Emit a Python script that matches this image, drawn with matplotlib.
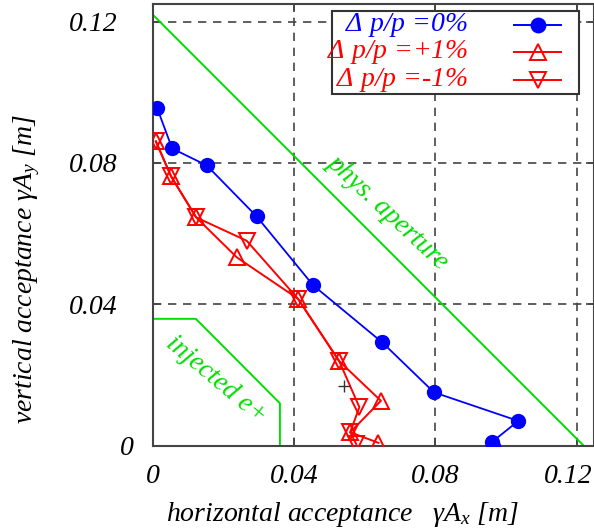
import matplotlib
matplotlib.use("Agg")
import matplotlib.pyplot as plt
from matplotlib.patches import Rectangle
from matplotlib.lines import Line2D
from matplotlib.transforms import ScaledTranslation

plt.rcParams["font.family"] = ["Liberation Serif", "DejaVu Serif"]
plt.rcParams["font.style"] = "italic"
plt.rcParams["mathtext.fontset"] = "custom"
plt.rcParams["mathtext.rm"] = "Liberation Serif"
plt.rcParams["mathtext.it"] = "Liberation Serif:italic"
plt.rcParams["mathtext.bf"] = "Liberation Serif:bold"

# Dynamic acceptance, dp/p = 0
ax0 = [0.0012, 0.0055, 0.0153, 0.0294, 0.0454, 0.0650, 0.0796, 0.1035, 0.0961, 0.0964]
ay0 = [0.0957, 0.0841, 0.0793, 0.0649, 0.0454, 0.0292, 0.0151, 0.0070, 0.0011, 0.0000]

# dp/p = +1%
axp = [0.0009, 0.0052, 0.0123, 0.0238, 0.0411, 0.0528, 0.0646, 0.0559, 0.0639]
ayp = [0.0861, 0.0762, 0.0646, 0.0533, 0.0416, 0.0239, 0.0127, 0.0038, 0.0008]

# dp/p = -1%
axm = [0.0009, 0.0052, 0.0123, 0.0266, 0.0411, 0.0528, 0.0585, 0.0559, 0.0576]
aym = [0.0861, 0.0762, 0.0646, 0.0580, 0.0416, 0.0239, 0.0109, 0.0038, 0.0005]

# physical aperture: Ax + Ay = const
phys_x = [0.0, 0.122]
phys_y = [0.122, 0.0]

# injected beam boundary
inj_x = [0.0, 0.0122, 0.0360, 0.0360]
inj_y = [0.0359, 0.0359, 0.0120, 0.0]

# stray marker
cross_x = [0.0542]
cross_y = [0.0169]

ticks = [0.0, 0.04, 0.08, 0.12]
tick_labels = ["0", "0.04", "0.08", "0.12"]

fig = plt.figure(figsize=(5.94, 5.29), dpi=100)
ax = fig.add_axes([0.2571, 0.1575, 0.7434, 0.8350])
ax.set_xlim(0, 0.125)
ax.set_ylim(0, 0.125)

ax.set_xticks(ticks)
ax.set_yticks(ticks)
ax.set_xticklabels(tick_labels, fontsize=20)
ax.set_yticklabels(tick_labels, fontsize=20)
ax.tick_params(direction="in", top=True, right=True, length=6, width=1.2,
               color="#444444")
ax.tick_params(axis="x", pad=13)
ax.tick_params(axis="y", pad=25)
for s in ax.spines.values():
    s.set_color("#444444")
    s.set_linewidth(1.5)

ax.grid(True, color="#444444", linestyle=(0, (5, 4)), linewidth=1.2, zorder=1)
ax.set_axisbelow(True)

# nudge end labels so they sit like the rest of the scale
ylab0 = ax.get_yticklabels()[0]
ylab0.set_transform(ylab0.get_transform() + ScaledTranslation(16 / 100, 0, fig.dpi_scale_trans))
xlab_last = ax.get_xticklabels()[-1]
xlab_last.set_transform(xlab_last.get_transform() + ScaledTranslation(-8 / 100, 0, fig.dpi_scale_trans))

ax.plot(phys_x, phys_y, color="#00dd00", lw=1.4, zorder=2)
ax.plot(inj_x, inj_y, color="#00dd00", lw=1.4, zorder=2)

ax.plot(axm, aym, color="red", lw=1.4, marker="v", ms=11, mfc="none", mew=1.4, zorder=3)
ax.plot(axp, ayp, color="red", lw=1.4, marker="^", ms=11, mfc="none", mew=1.4, zorder=3)
ax.plot(ax0, ay0, color="blue", lw=1.3, marker="o", ms=10, zorder=4)
ax.plot(cross_x, cross_y, ls="none", marker="+", ms=8, mew=1.0, color="#333333", zorder=4)

ax.text(0.0666, 0.0661, "phys. aperture", color="#00dd00", fontsize=19.5,
        rotation=-43, ha="center", va="center", rotation_mode="anchor")
ax.text(0.0180, 0.0185, "injected e+", color="#00dd00", fontsize=19.5,
        rotation=-40, ha="center", va="center", rotation_mode="anchor")

ax.set_xlabel(r"horizontal acceptance   $\mathrm{\gamma A}_x$ [m]", fontsize=20)
ax.xaxis.set_label_coords(0.43, -0.122)
ax.set_ylabel(r"vertical acceptance $\mathrm{\gamma A}_y$ [m]", fontsize=20)
ax.yaxis.set_label_coords(-0.25, 0.40)

# key box
box = Rectangle((0.4053, 0.7955), 0.9661 - 0.4053, 0.9841 - 0.7955,
                transform=ax.transAxes, facecolor="white", edgecolor="#333333",
                lw=1.5, zorder=5)
ax.add_patch(box)
entries = [
    (r"$\Delta$ p/p =0%", "blue", "o", "blue", 0.9524),
    (r"$\Delta$ p/p =+1%", "red", "^", "none", 0.8913),
    (r"$\Delta$ p/p =-1%", "red", "v", "none", 0.8280),
]
for label, col, mk, mfc, yy in entries:
    ax.text(0.714, yy, label, color=col, fontsize=20, ha="right", va="center",
            transform=ax.transAxes, zorder=6)
    ax.add_line(Line2D([0.8186, 0.9250], [yy, yy], transform=ax.transAxes,
                       color=col, lw=1.4, zorder=6))
    ax.add_line(Line2D([0.8718], [yy], transform=ax.transAxes, color=col,
                       marker=mk, ms=11 if mk != "o" else 10, mfc=mfc, mew=1.4, zorder=6))

fig.savefig("out.png", dpi=100)
